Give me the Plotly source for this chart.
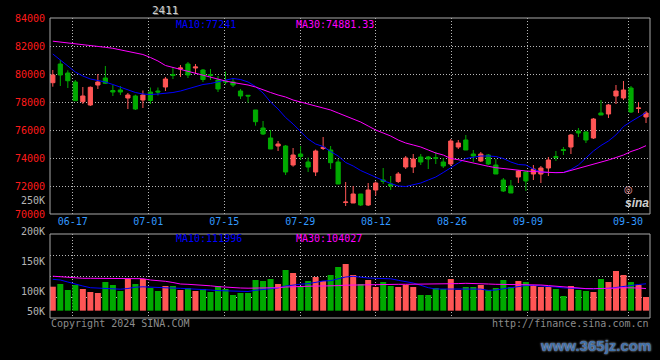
import plotly.graph_objects as go

# ---------------- data ----------------
TITLE = "2411"
TICK_LABELS = ["06-17", "07-01", "07-15", "07-29", "08-12", "08-26", "09-09", "09-30"]
TICK_POS = [2.65, 12.72, 22.84, 32.96, 43.04, 53.16, 63.28, 76.6]

OPEN = [79379, 80714, 80071, 79429, 78021, 77786, 79214, 79714, 78821, 78857,
        78286, 78429, 78143, 78714, 78786, 79071, 79964, 80357, 80714, 80429,
        80286, 79964, 79571, 79500, 79429, 78786, 78479, 77429, 76143, 75429,
        74857, 74857, 73500, 74286, 73714, 73000, 74679, 74571, 73714, 70822,
        70786, 71429, 70643, 71714, 72429, 72143, 72321, 73357, 73357, 74071,
        74071, 74021, 73714, 73571, 74786, 75286, 74286, 73786, 74214, 73500,
        72429, 72000, 72643, 73000, 72857, 72857, 73286, 74107, 74607, 74786,
        75929, 75857, 75429, 77214, 77143, 78429, 78286, 79000, 77536, 76929]
HIGH = [80286, 81000, 80264, 79571, 79071, 79107, 80000, 80571, 79214, 79143,
        78643, 78521, 78821, 79036, 79036, 79786, 80500, 80643, 80857, 80714,
        80357, 80357, 79857, 80180, 79714, 78929, 78500, 77429, 76643, 76000,
        75214, 74929, 74714, 74857, 74036, 74607, 75500, 74857, 73929, 72286,
        72000, 71429, 72214, 72321, 73286, 72714, 73000, 74143, 74286, 74286,
        74143, 74429, 74000, 75357, 75286, 75643, 74571, 74429, 74286, 73929,
        72571, 72429, 73143, 73071, 73500, 73429, 74071, 74500, 74786, 75714,
        76143, 75929, 76857, 78143, 77857, 79214, 79500, 79143, 78000, 77357]
LOW = [79093, 79143, 79000, 78093, 77857, 77714, 78929, 79286, 78429, 78500,
       77500, 77429, 77571, 77857, 78464, 78786, 79643, 79786, 79714, 80000,
       79429, 79571, 78714, 79250, 79071, 78214, 77950, 76307, 75643, 74643,
       74500, 72786, 73379, 73857, 73000, 72714, 74571, 73214, 72143, 70571,
       70786, 70571, 70571, 71321, 72143, 71714, 72214, 73214, 72929, 73500,
       73214, 73571, 73286, 73429, 74643, 74571, 73714, 73714, 73500, 72857,
       71571, 71500, 72214, 71643, 72429, 72214, 72714, 73786, 74214, 74286,
       75500, 75071, 75357, 77071, 76857, 77857, 78143, 77214, 77214, 76500]
CLOSE = [79929, 79929, 79521, 78093, 78429, 79050, 79429, 79336, 78714, 78714,
         78500, 77500, 78500, 78107, 78714, 79643, 79893, 80429, 79929, 80500,
         79607, 79893, 78929, 79429, 79214, 78429, 78429, 76593, 75714, 74643,
         75000, 73000, 74214, 74107, 73357, 74500, 74764, 73664, 72143, 70857,
         71429, 70643, 71714, 72214, 72321, 72000, 72857, 74000, 73929, 73714,
         73929, 73979, 73429, 75214, 75071, 74571, 74143, 74286, 73571, 72857,
         71643, 71500, 73071, 72357, 73214, 73286, 73857, 74036, 74536, 75643,
         75786, 75286, 76786, 77071, 77786, 78786, 78857, 77286, 77571, 77214]

PRICE_MA10 = [81430, 81000, 80571, 80143, 79857, 79643, 79536, 79429, 79250, 79071,
              78893, 78679, 78571, 78536, 78571, 78607, 78679, 78786, 78929, 79107,
              79250, 79321, 79429, 79536, 79679, 79607, 79429, 79107, 78643, 78000,
              77500, 76893, 76429, 75893, 75357, 75000, 74821, 74464, 74143, 73679,
              73429, 73107, 72857, 72607, 72393, 72179, 72000, 71964, 72071, 72214,
              72429, 72643, 72964, 73321, 73643, 73964, 74071, 74143, 74143, 74107,
              73964, 73714, 73536, 73500, 73214, 73000, 72964, 72964, 72964, 73179,
              73500, 74000, 74500, 74893, 75214, 75650, 76250, 76600, 76900, 77241]
PRICE_MA30 = [82343, 82286, 82236, 82143, 82071, 82014, 81964, 81907, 81836, 81714,
              81607, 81500, 81393, 81179, 80929, 80607, 80464, 80357, 80214, 80071,
              79893, 79750, 79607, 79500, 79393, 79321, 79214, 79071, 78857, 78679,
              78500, 78357, 78143, 78000, 77857, 77714, 77607, 77429, 77214, 77000,
              76786, 76571, 76286, 76000, 75786, 75571, 75286, 75071, 74929, 74786,
              74571, 74357, 74214, 73964, 73878, 73750, 73621, 73500, 73407, 73307,
              73236, 73193, 73129, 73071, 73036, 73000, 72964, 72950, 72964, 73107,
              73250, 73429, 73571, 73714, 73857, 74036, 74214, 74464, 74643, 74881.33]

VOLUME = [107167, 111667, 101667, 110000, 103333, 98333, 96667, 115000, 110000, 100000,
          120000, 111667, 120000, 105000, 100000, 108333, 108333, 101667, 105000, 100000,
          103333, 98333, 108333, 103333, 93333, 96667, 96667, 118333, 116667, 120000,
          111667, 135000, 130000, 106667, 116667, 123333, 116667, 126667, 140000, 145000,
          126667, 111667, 118333, 106667, 115000, 108333, 106667, 110000, 106667, 93333,
          93333, 105000, 103333, 120000, 101667, 106667, 106667, 110000, 101667, 105000,
          118333, 106667, 116667, 115000, 110000, 106667, 106667, 103333, 91667, 108333,
          101667, 100000, 98333, 120000, 115000, 133333, 126667, 115000, 110000, 90000]
VOL_MA10 = [119500, 118333, 115000, 111167, 108333, 105500, 104667, 103667, 103000, 103000,
            104167, 106333, 107000, 106167, 105667, 105167, 104833, 104500, 104000, 103500,
            102833, 101667, 100667, 100333, 100000, 99500, 99167, 101167, 102500, 104167,
            105167, 108333, 110333, 111333, 112167, 115000, 116667, 117167, 120000, 123333,
            124500, 122667, 121667, 121167, 121000, 120333, 117833, 115833, 113333, 109500,
            105500, 103333, 103333, 103333, 103000, 103333, 103667, 103167, 101000, 101667,
            103667, 105833, 107833, 109167, 109333, 108833, 108333, 106667, 105167, 104333,
            103833, 103833, 103833, 103833, 104333, 105833, 107833, 109500, 110833, 111996]
VOL_MA30 = [124667, 123667, 122667, 121667, 121167, 121167, 121167, 121167, 121167, 121167,
            121000, 120833, 120500, 118333, 117500, 116167, 114167, 111667, 111167, 110667,
            110000, 108667, 107333, 106333, 105500, 105000, 104667, 104667, 105000, 105167,
            105500, 106667, 107333, 107833, 108000, 108333, 108333, 108333, 109000, 109667,
            110000, 110333, 110833, 111167, 111167, 111167, 111167, 111167, 111167, 111333,
            111500, 111667, 111667, 111667, 112333, 112833, 112833, 112833, 111667, 111167,
            111167, 111167, 111167, 111167, 111000, 110000, 109000, 107833, 106667, 105333,
            104500, 104000, 103833, 103833, 103833, 104800, 105500, 105500, 105000, 104027]

PRICE_TICKS = [70000, 72000, 74000, 76000, 78000, 80000, 82000, 84000]
VOL_LABELS = ["250K", "200K", "150K", "100K", "50K"]
MA_TEXT = {"p10": "MA10:77241", "p30": "MA30:74881.33",
           "v10": "MA10:111996", "v30": "MA30:104027"}
FOOT_LEFT = "Copyright 2024 SINA.COM"
FOOT_RIGHT = "http://finance.sina.com.cn"
WATERMARK = "www.365jz.com"

# ---------------- style ----------------
W, H = 660, 360
L, R, T, B = 50, 10, 18, 42
PW, PH = W - L - R, H - T - B
MONO = "DejaVu Sans Mono"
RED, GREEN = "#ff5555", "#00aa00"
BLUE, MAG = "#0000ff", "#ff00ff"
GRID, FRAME = "#b8b8b8", "#a8a8a8"
DOT = "1px,2px"
VOL_BASE = 67200

x = list(range(len(OPEN)))


def xp(p):
    return (p - L) / PW


def yp(p):
    return (H - B - p) / PH


fig = go.Figure()
fig.add_trace(go.Candlestick(
    x=x, open=OPEN, high=HIGH, low=LOW, close=CLOSE,
    increasing=dict(line=dict(color=RED, width=1), fillcolor=RED),
    decreasing=dict(line=dict(color=GREEN, width=1), fillcolor=GREEN),
    whiskerwidth=0, hoverinfo="skip", xaxis="x", yaxis="y"))
fig.add_trace(go.Scatter(x=x, y=PRICE_MA10, mode="lines", line=dict(color=BLUE, width=1),
                         hoverinfo="skip", xaxis="x", yaxis="y"))
fig.add_trace(go.Scatter(x=x, y=PRICE_MA30, mode="lines", line=dict(color=MAG, width=1),
                         hoverinfo="skip", xaxis="x", yaxis="y"))

bar_colors = [RED if c >= o else GREEN for o, c in zip(OPEN, CLOSE)]
fig.add_trace(go.Bar(x=x, y=[v - VOL_BASE for v in VOLUME], base=VOL_BASE,
                     marker=dict(color=bar_colors, line=dict(width=0)), width=0.8,
                     hoverinfo="skip", xaxis="x2", yaxis="y2"))
fig.add_trace(go.Scatter(x=x, y=VOL_MA10, mode="lines", line=dict(color=BLUE, width=1),
                         hoverinfo="skip", xaxis="x2", yaxis="y2"))
fig.add_trace(go.Scatter(x=x, y=VOL_MA30, mode="lines", line=dict(color=MAG, width=1),
                         hoverinfo="skip", xaxis="x2", yaxis="y2"))

price_top, price_bot = 18, 214
vol_top, vol_bot = 234, 318

common_x = dict(range=[-0.373, 79.53], tickvals=TICK_POS, showgrid=True, gridcolor=GRID,
                griddash=DOT, gridwidth=1, zeroline=False, showline=False, ticks="",
                fixedrange=True)
fig.update_layout(
    width=W, height=H, margin=dict(l=L, r=R, t=T, b=B, pad=0),
    paper_bgcolor="black", plot_bgcolor="black", showlegend=False,
    boxgap=0.2, bargap=0.2,
    xaxis=dict(**common_x, anchor="y", ticktext=TICK_LABELS,
               tickfont=dict(family=MONO, size=10, color="#3399ff"),
               rangeslider=dict(visible=False)),
    xaxis2=dict(**common_x, anchor="y2", matches="x", showticklabels=False),
    yaxis=dict(domain=[yp(price_bot), yp(price_top)], anchor="x", range=[70000, 84000],
               tickvals=PRICE_TICKS, ticktext=[str(v) for v in PRICE_TICKS],
               tickfont=dict(family=MONO, size=10, color="#ff1a1a"),
               showgrid=True, gridcolor=GRID, griddash=DOT, zeroline=False,
               showline=False, ticks="", ticklabelstandoff=4, fixedrange=True),
    yaxis2=dict(domain=[yp(vol_bot), yp(vol_top)], anchor="x2", range=[55000, 195000],
                tickvals=[90000, 125000, 160000], showticklabels=False,
                showgrid=True, gridcolor=GRID, griddash=DOT, zeroline=False,
                showline=False, ticks="", fixedrange=True),
)

fig.add_shape(type="rect", xref="x domain", yref="y domain", x0=0, x1=1, y0=0, y1=1,
              line=dict(color=FRAME, width=1), layer="above")
fig.add_shape(type="rect", xref="x2 domain", yref="y2 domain", x0=0, x1=1, y0=0, y1=1,
              line=dict(color=FRAME, width=1), layer="above")


def ann(text, px_, py_, color, size=10, xanchor="left", family=MONO, **fkw):
    fig.add_annotation(text=text, x=xp(px_), y=yp(py_), xref="paper", yref="paper",
                       xanchor=xanchor, yanchor="middle", showarrow=False, borderpad=0,
                       font=dict(family=family, size=size, color=color, **fkw))


ann(TITLE, 165, 10, "#d0d0d0", size=11, xanchor="center", shadow="1px 1px 0px #555555")
ann(MA_TEXT["p10"], 175, 24, BLUE)
ann(MA_TEXT["p30"], 295, 24, MAG)
ann(MA_TEXT["v10"], 175, 238.5, BLUE)
ann(MA_TEXT["v30"], 295, 238.5, MAG)
for lab, ypx in zip(VOL_LABELS, [200, 231, 261, 291, 311]):
    ann(lab, 46, ypx, "#b4b4b4", xanchor="right")
ann(FOOT_LEFT, 50, 323.5, "#8c8c8c")
ann(FOOT_RIGHT, 650, 323.5, "#8c8c8c", xanchor="right")
ann(WATERMARK, 595, 345, "#3f70aa", size=15, xanchor="center", family="Liberation Sans",
    weight="bold", shadow="0px 0px 2px #e0e8f0")
ann("sina", 637, 203, "#cfcfcf", size=12, xanchor="center", family="Liberation Sans",
    weight="bold", style="italic")
ann("◎", 628, 189, "#f4a0a8", size=10, xanchor="center", family="DejaVu Sans")

fig.write_html("out.html", config={"displayModeBar": False},
               post_script="document.body.style.margin='0';"
                           "document.body.style.background='black';")
